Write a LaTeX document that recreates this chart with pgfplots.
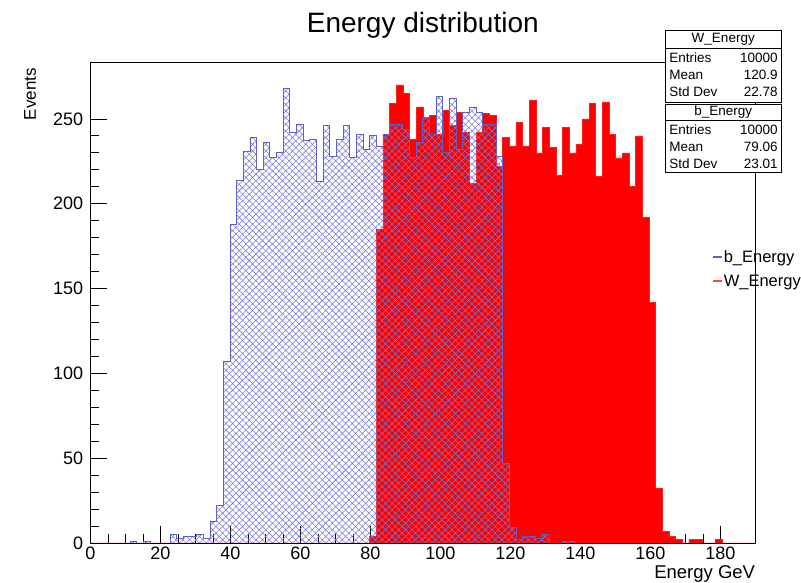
\documentclass[border=0pt]{standalone}
\usepackage{fontspec}
\setmainfont{Liberation Sans}
\usepackage{pgfplots}
\usepackage{pgfplotstable}
\pgfplotsset{compat=1.18}
\usetikzlibrary{patterns.meta}
\definecolor{bline}{RGB}{95,95,205}
\definecolor{bhatch}{RGB}{120,120,220}
\definecolor{wline}{RGB}{255,30,30}
\definecolor{wleg}{RGB}{255,70,70}

\pgfplotstableread{
x b W
0 0 0
1.9 0 0
3.8 0 0
5.7 0 0
7.6 0 0
9.5 0 0
11.4 1 0
13.3 0 0
15.2 1 0
17.1 0 0
19 0 0
20.9 0 0
22.8 5 0
24.7 3 0
26.6 4 0
28.5 4 0
30.4 5 0
32.3 3 0
34.2 13 0
36.1 22 0
38 107 0
39.9 188 0
41.8 214 0
43.7 231 0
45.6 239 0
47.5 220 0
49.4 236 0
51.3 227 0
53.2 230 0
55.1 268 0
57 242 0
58.9 247 0
60.8 237 0
62.7 238 0
64.6 213 0
66.5 246 0
68.4 228 0
70.3 238 0
72.2 246 0
74.1 227 0
76 241 0
77.9 232 0
79.8 240 4
81.7 234 185
83.6 241 241
85.5 247 259
87.4 247 270
89.3 244 265
91.2 227 238
93.1 236 257
95 251 251
96.9 241 252
98.8 263 241
100.7 230 255
102.6 262 246
104.5 232 254
106.4 254 242
108.3 257 212
110.2 254 242
112.1 247 253
114 247 252
115.9 228 222
117.8 47 239
119.7 9 234
121.6 2 248
123.5 4 234
125.4 4 261
127.3 3 230
129.2 5 245
131.1 0 233
133 0 217
134.9 1 245
136.8 1 230
138.7 0 235
140.6 0 250
142.5 0 259
144.4 0 216
146.3 0 260
148.2 0 241
150.1 0 227
152 0 230
153.9 0 210
155.8 0 240
157.7 0 192
159.6 0 142
161.5 0 32
163.4 0 7
165.3 0 4
167.2 0 2
169.1 0 0
171 0 2
172.9 0 2
174.8 0 0
176.7 0 0
178.6 0 2
180.5 0 0
182.4 0 0
184.3 0 0
186.2 0 0
188.1 0 0
190 0 0
}\histdata

\begin{document}
\begin{tikzpicture}
\useasboundingbox[fill=white] (0pt,0pt) rectangle (801pt,583pt);
\begin{axis}[
  at={(90.3pt,40pt)}, anchor=south west,
  scale only axis, width=665pt, height=481pt,
  xmin=0, xmax=190, ymin=0, ymax=283.5,
  xtick={0,20,...,180}, ytick={0,50,...,250},
  minor x tick num=3, minor y tick num=4,
  tick pos=left, tick align=inside,
  major tick length=17pt, minor tick length=8.5pt,
  every tick/.style={black, line width=0.6pt},
  axis line style={black, line width=0.7pt},
  /pgf/number format/assume math mode=true,
  tick label style={font=\fontsize{18}{20}\selectfont},
  xticklabel style={inner sep=0pt, yshift=-4pt},
  yticklabel style={inner sep=0pt, xshift=-7pt},
  title={Energy distribution},
  title style={at={(axis description cs:0.5,1)}, anchor=base, yshift=23pt, inner sep=0pt, font=\fontsize{28}{30}\selectfont},
  xlabel={Energy GeV},
  xlabel style={at={(axis description cs:1,0)}, anchor=north east, yshift=-22pt, inner sep=0pt, font=\fontsize{18.5}{20}\selectfont},
  ylabel={Events},
  ylabel style={at={(axis description cs:-0.0907,0.9875)}, anchor=east, inner sep=0pt, font=\fontsize{17}{20}\selectfont},
  legend style={draw=none, fill=none, at={(axis description cs:0.935,0.611)}, anchor=north west,
    font=\fontsize{16.5}{18}\selectfont, inner sep=0pt, row sep=9pt, nodes={inner sep=1pt}},
  legend cell align=left,
]
\addlegendimage{legend image code/.code={\draw[draw=bline, line width=1.3pt] (0pt,0pt) -- (9pt,0pt);}}
\addlegendentry{b\_Energy}
\addlegendimage{legend image code/.code={\draw[draw=wleg, line width=1.5pt] (0pt,0pt) -- (9pt,0pt);}}
\addlegendentry{W\_Energy}
\addplot[forget plot, const plot, draw=wline, line width=0.5pt, fill=red] table[x=x, y=W] {\histdata} \closedcycle;
\addplot[forget plot, const plot, draw=bline, line width=0.8pt,
  pattern={Hatch[angle=45, distance=4.7pt, line width=0.55pt]}, pattern color=bhatch] table[x=x, y=b] {\histdata} \closedcycle;
\end{axis}
% statistics boxes
\begin{scope}[font=\fontsize{13.5}{15}\selectfont, line width=0.7pt]
\filldraw[fill=white, draw=black] (665.5pt,480.5pt) rectangle (781pt,553pt);
\draw (665.5pt,535pt) -- (781pt,535pt);
\node[inner sep=0pt] at (723.25pt,543.5pt) {W\_Energy};
\node[inner sep=0pt, anchor=west] at (669pt,525pt) {Entries};
\node[inner sep=0pt, anchor=east] at (778pt,525pt) {10000};
\node[inner sep=0pt, anchor=west] at (669pt,508pt) {Mean};
\node[inner sep=0pt, anchor=east] at (778pt,508pt) {120.9};
\node[inner sep=0pt, anchor=west] at (669pt,491pt) {Std Dev};
\node[inner sep=0pt, anchor=east] at (778pt,491pt) {22.78};
\filldraw[fill=white, draw=black] (665.5pt,411pt) rectangle (781pt,479pt);
\draw (665.5pt,463pt) -- (781pt,463pt);
\node[inner sep=0pt] at (723.25pt,471pt) {b\_Energy};
\node[inner sep=0pt, anchor=west] at (669pt,453pt) {Entries};
\node[inner sep=0pt, anchor=east] at (778pt,453pt) {10000};
\node[inner sep=0pt, anchor=west] at (669pt,436pt) {Mean};
\node[inner sep=0pt, anchor=east] at (778pt,436pt) {79.06};
\node[inner sep=0pt, anchor=west] at (669pt,419pt) {Std Dev};
\node[inner sep=0pt, anchor=east] at (778pt,419pt) {23.01};
\end{scope}
\end{tikzpicture}
\end{document}
